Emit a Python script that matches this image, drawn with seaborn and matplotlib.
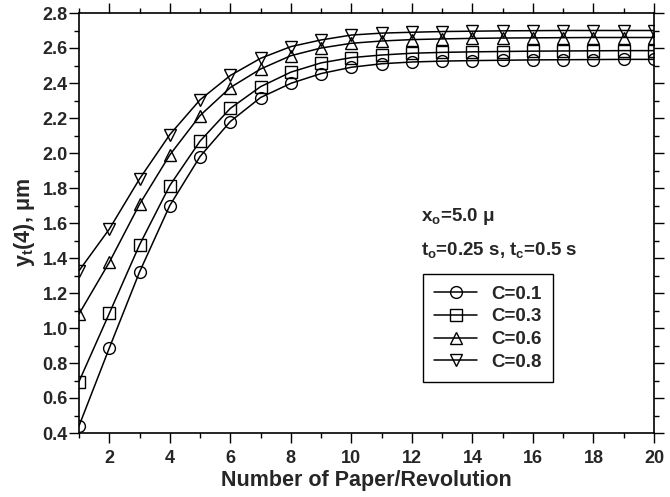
import numpy as np
import pandas as pd
import matplotlib
matplotlib.use("Agg")
import matplotlib.pyplot as plt
import seaborn as sns
from matplotlib.ticker import MultipleLocator

papers = list(range(1, 21))
c01 = [0.44, 0.885, 1.32, 1.70, 1.98, 2.18, 2.317, 2.398, 2.454, 2.49, 2.51, 2.52, 2.525, 2.528, 2.53, 2.532, 2.533, 2.534, 2.535, 2.535]
c03 = [0.694, 1.083, 1.475, 1.814, 2.068, 2.255, 2.379, 2.462, 2.515, 2.545, 2.56, 2.57, 2.575, 2.578, 2.58, 2.582, 2.583, 2.584, 2.585, 2.585]
c06 = [1.08, 1.375, 1.707, 1.989, 2.214, 2.374, 2.48, 2.556, 2.60, 2.627, 2.64, 2.648, 2.652, 2.655, 2.657, 2.658, 2.659, 2.66, 2.66, 2.66]
c08 = [1.327, 1.565, 1.852, 2.105, 2.304, 2.443, 2.541, 2.608, 2.646, 2.674, 2.685, 2.69, 2.694, 2.696, 2.698, 2.699, 2.70, 2.70, 2.70, 2.70]
series_labels = ["C=0.1", "C=0.3", "C=0.6", "C=0.8"]
series_values = [c01, c03, c06, c08]

df = pd.DataFrame({
    "x": papers * 4,
    "y": sum(series_values, []),
    "C": sum([[lab] * len(papers) for lab in series_labels], []),
})

sns.set_style("ticks")
plt.rcParams["font.family"] = ["Liberation Sans", "DejaVu Sans"]
plt.rcParams["mathtext.fontset"] = "custom"
plt.rcParams["mathtext.rm"] = "Liberation Sans"
plt.rcParams["mathtext.bf"] = "Liberation Sans:bold"
plt.rcParams["mathtext.it"] = "Liberation Sans:italic"

fig = plt.figure(figsize=(6.7, 4.97), dpi=100)
ax = fig.add_axes([79 / 670, 1 - 433 / 497, 575 / 670, 420 / 497])

markers = {"C=0.1": "o", "C=0.3": "s", "C=0.6": "^", "C=0.8": "v"}
sns.lineplot(data=df, x="x", y="y", hue="C", style="C", markers=markers,
             dashes=False, palette=["black"] * 4, legend=False, ax=ax,
             markersize=8.5, markerfacecolor="none", markeredgecolor="black",
             markeredgewidth=1.0, linewidth=1.1)

ax.set_xlim(1, 20)
ax.set_ylim(0.4, 2.8)
ax.xaxis.set_major_locator(MultipleLocator(2))
ax.xaxis.set_minor_locator(MultipleLocator(1))
ax.yaxis.set_major_locator(MultipleLocator(0.2))
ax.yaxis.set_minor_locator(MultipleLocator(0.1))
ax.yaxis.set_major_formatter(matplotlib.ticker.FormatStrFormatter("%.1f"))
ax.tick_params(which="both", direction="out", top=True, right=True, color="black", width=1.0)
ax.tick_params(which="major", length=7, labelsize=13)
ax.tick_params(which="minor", length=3.5)
ax.tick_params(axis="x", which="major", pad=5.5)
ax.tick_params(axis="y", which="major", pad=1)
for lab in ax.get_xticklabels() + ax.get_yticklabels():
    lab.set_fontweight("bold")
for s in ax.spines.values():
    s.set_visible(True)
    s.set_color("black")
    s.set_linewidth(1.2)

ax.set_xlabel("Number of Paper/Revolution", fontsize=15.5, fontweight="bold", labelpad=2)
ax.set_ylabel(r"y$_\mathbf{t}$(4), μm", fontsize=15.5, fontweight="bold", labelpad=4)

ax.text(0.595, 0.515, r"x$_\mathbf{o}$=5.0 μ", transform=ax.transAxes,
        fontsize=13.5, fontweight="bold", va="center", ha="left")
ax.text(0.595, 0.435, r"t$_\mathbf{o}$=0.25 s, t$_\mathbf{c}$=0.5 s", transform=ax.transAxes,
        fontsize=13.5, fontweight="bold", va="center", ha="left")

handles = ax.lines[:4]
leg = ax.legend(handles, series_labels, loc="upper left", bbox_to_anchor=(0.598, 0.378),
                borderaxespad=0, frameon=True, fancybox=False, edgecolor="black", framealpha=1,
                prop={"weight": "bold", "size": 13.5}, handlelength=2.3,
                borderpad=0.6, labelspacing=0.3, handletextpad=0.75)
leg.get_frame().set_linewidth(1.0)

fig.savefig("out.png", dpi=100)
